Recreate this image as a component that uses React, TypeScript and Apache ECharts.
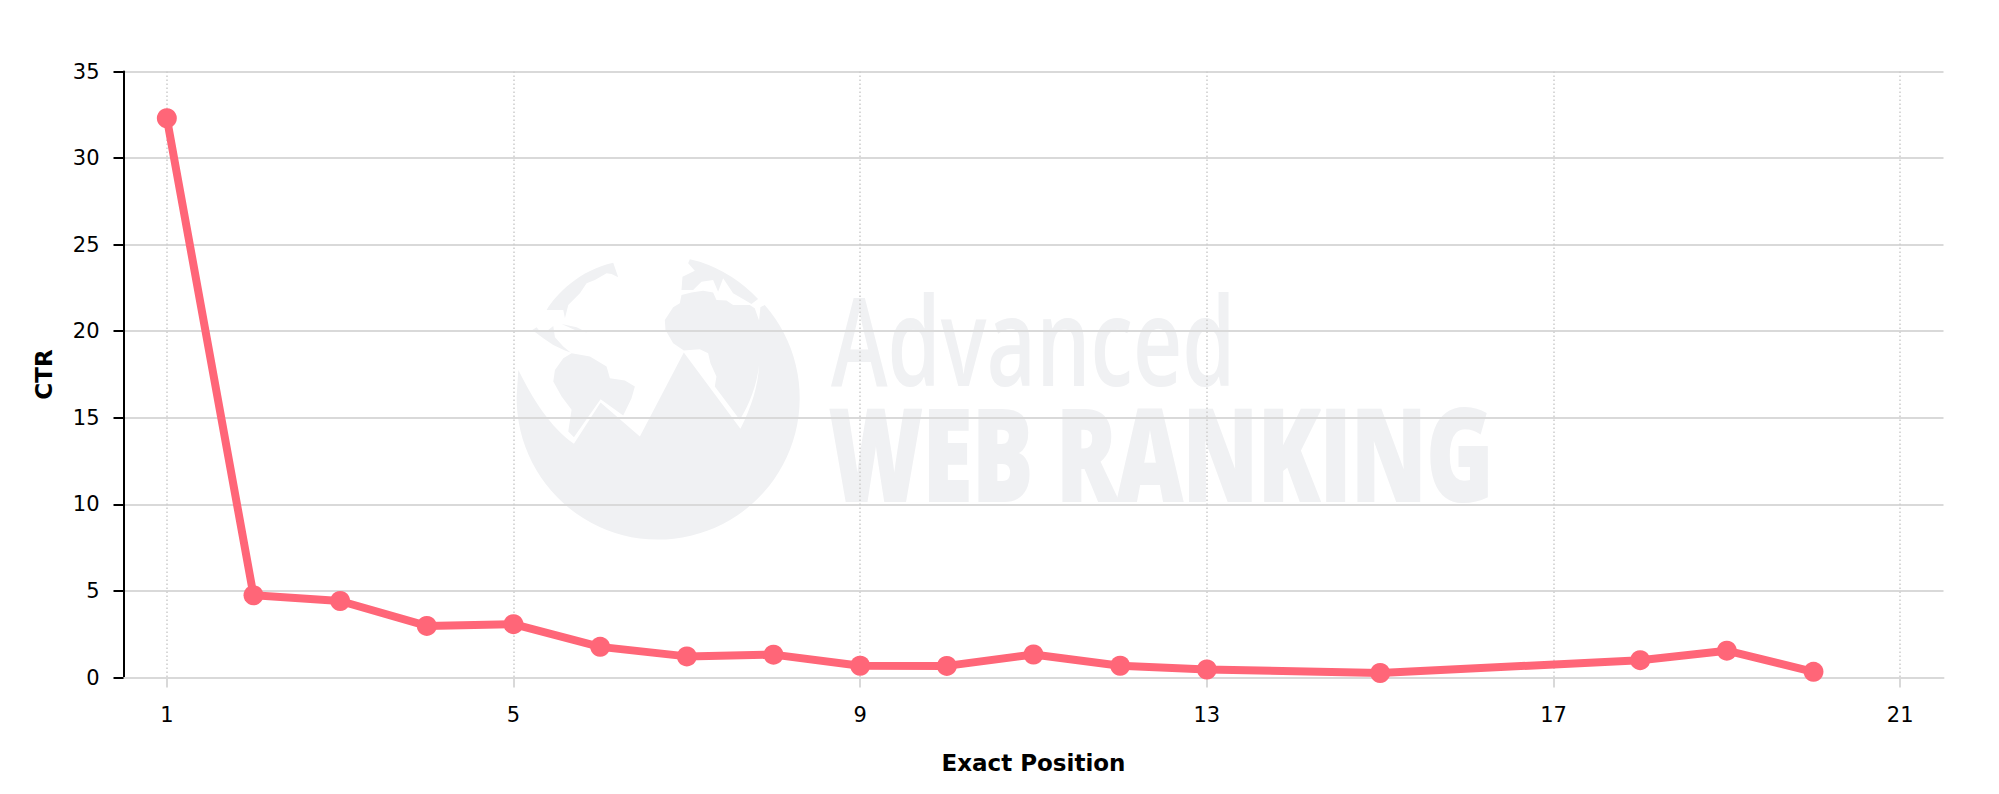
import React, { useEffect, useRef } from "react";
import * as echarts from "echarts";

const positions = [1, 2, 3, 4, 5, 6, 7, 8, 9, 10, 11, 12, 13, 15, 18, 19, 20];
const ctrValues = [32.3, 4.75, 4.42, 2.98, 3.08, 1.77, 1.22, 1.32, 0.68, 0.67, 1.33, 0.68, 0.46, 0.26, 1.0, 1.55, 0.33];
const xTickValues = [1, 5, 9, 13, 17, 21];
const xAxisTitle = "Exact Position";
const yAxisTitle = "CTR";
const watermarkLight = "Advanced";
const watermarkBold = "WEB RANKING";

const LINE = "#ff6678";
const GRID = "#d9d9d9";
const MARK = "#f0f1f3";
const FONT = '"DejaVu Sans", Verdana, sans-serif';

const globeBody =
  "M55 360 C100 450 150 530 222 582 L302 458 L420 560 L552 308 L722 537 C755 470 775 410 778 345 " +
  "C770 410 750 460 720 510 L645 410 L650 380 L632 340 L625 310 L600 298 L570 300 L552 302 L520 280 L497 240 L495 210 " +
  "L520 172 L540 160 L545 135 L575 128 L610 122 L640 128 L650 150 L680 152 L700 165 L750 165 L765 175 L778 212 L782 172 L795 165 " +
  "A425 425 0 1 1 50 440 Z " +
  "M775 147 A425 425 0 0 0 600 35 L570 28 L565 40 L585 62 L548 80 L545 120 L580 120 L605 95 L640 90 L655 125 L670 85 L700 130 L735 150 L755 162 Z " +
  "M340 38 L355 82 L335 72 L320 70 L285 90 L260 100 L240 130 L205 165 L195 205 L190 180 L140 180 C170 130 240 60 340 38 Z " +
  "M97 240 L110 232 L120 245 L145 240 L160 228 L165 262 L190 290 L212 308 L195 302 L160 285 L130 265 Z " +
  "M215 310 L245 315 L270 320 L320 350 L330 385 L375 392 L405 410 L395 445 L370 497 L302 448 L222 562 L205 545 L215 480 L185 440 L160 395 L165 360 L190 325 Z " +
  "M185 222 L230 232 L262 248 L225 240 Z";

echarts.graphic.registerShape("awrGlobe", echarts.graphic.extendPath(globeBody, {}) as any);

export default function App() {
  const ref = useRef<HTMLDivElement>(null);
  useEffect(() => {
    document.body.style.margin = "0";
    const chart = echarts.init(ref.current!, undefined, { renderer: "svg" });
    chart.setOption({
      animation: false,
      backgroundColor: "#ffffff",
      grid: { left: 123.5, right: 55.5, top: 71.5, bottom: 116.5, containLabel: false },
      xAxis: {
        type: "value",
        min: 0.5,
        max: 21.5,
        name: xAxisTitle,
        nameLocation: "middle",
        nameGap: 74,
        nameTextStyle: { fontFamily: FONT, fontWeight: "bold", fontSize: 23, color: "#000" },
        axisLine: { onZero: false, lineStyle: { color: GRID, width: 2 } },
        axisTick: { show: true, length: 10, customValues: xTickValues, lineStyle: { color: GRID, width: 2 } },
        axisLabel: { customValues: xTickValues, margin: 27, fontFamily: FONT, fontSize: 21, color: "#000" },
        splitLine: { show: true, lineStyle: { color: "#cccccc", width: 1.5, type: [1.5, 2.5] } },
      },
      yAxis: {
        type: "value",
        min: 0,
        max: 35,
        interval: 5,
        name: yAxisTitle,
        nameLocation: "middle",
        nameGap: 68,
        nameTextStyle: { fontFamily: FONT, fontWeight: "bold", fontSize: 23, color: "#000" },
        axisLine: { show: true, lineStyle: { color: "#000", width: 2 } },
        axisTick: { show: true, length: 10, lineStyle: { color: "#000", width: 2 } },
        axisLabel: { margin: 24, fontFamily: FONT, fontSize: 21, color: "#000" },
        splitLine: { show: true, lineStyle: { color: GRID, width: 2 } },
      },
      graphic: [
        {
          type: "group",
          z: -10,
          silent: true,
          children: [
            {
              type: "awrGlobe",
              x: 500,
              y: 250,
              scaleX: 1 / 3,
              scaleY: 1 / 3,
              z: -10,
              style: { fill: MARK },
            },
            {
              type: "text",
              x: 831,
              y: 338,
              scaleX: 0.69,
              z: -10,
              style: {
                text: watermarkLight,
                fontFamily: '"Open Sans"',
                fontWeight: 600,
                fontSize: 124,
                fill: MARK,
                verticalAlign: "middle",
              },
            },
            {
              type: "text",
              x: 829,
              y: 451,
              scaleX: 0.71,
              z: -10,
              style: {
                text: watermarkBold,
                fontFamily: '"Open Sans"',
                fontWeight: 800,
                fontSize: 127,
                fill: MARK,
                stroke: MARK,
                lineWidth: 2,
                verticalAlign: "middle",
              },
            },
          ],
        },
      ],
      series: [
        {
          type: "line",
          data: positions.map((p, i) => [p, ctrValues[i]]),
          symbol: "circle",
          symbolSize: 20,
          showSymbol: true,
          lineStyle: { color: LINE, width: 8 },
          itemStyle: { color: LINE },
          z: 5,
        },
      ],
    });
    return () => chart.dispose();
  }, []);
  return <div ref={ref} style={{ width: 1999, height: 794, display: "block" }} />;
}
